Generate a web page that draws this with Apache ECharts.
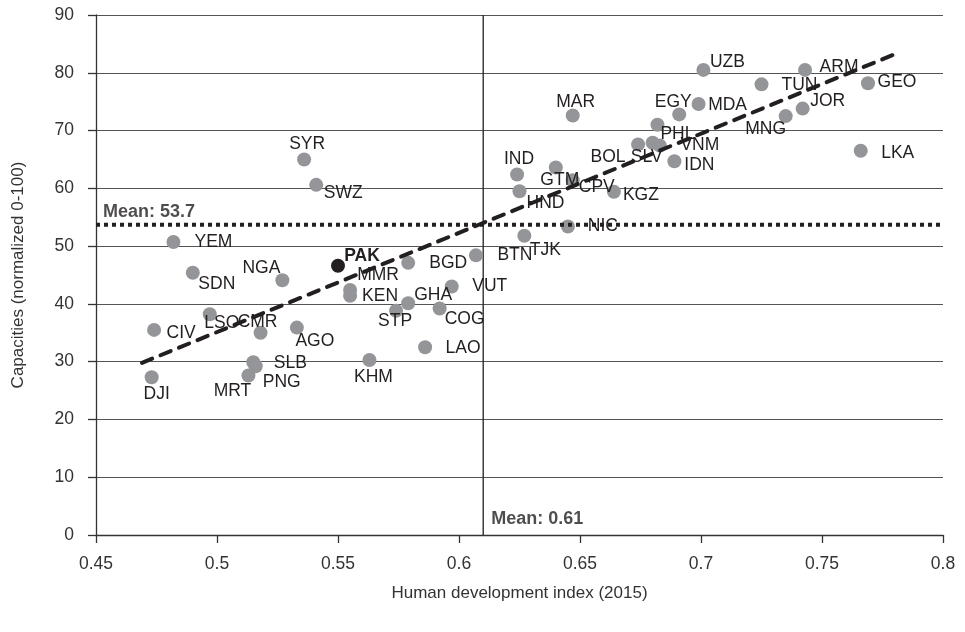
<!DOCTYPE html>
<html>
<head>
<meta charset="utf-8">
<script src="https://cdn.jsdelivr.net/npm/echarts@6/dist/echarts.min.js"></script>
<style>
html,body{margin:0;padding:0;background:#fff;}
#chart{width:965px;height:632px;}
</style>
</head>
<body>
<div id="chart"></div>
<script>
// ---- data ----
const countries = ['DJI','CIV','YEM','SDN','LSO','CMR','AGO','NGA','SLB','PNG','MRT','SYR','SWZ','PAK','BGD','MMR','KEN','VUT','GHA','STP','COG','LAO','KHM','BTN','MAR','IND','HND','GTM','CPV','KGZ','NIC','TJK','UZB','EGY','MDA','PHL','BOL','SLV','VNM','IDN','TUN','ARM','JOR','MNG','GEO','LKA'];
const hdi = [0.473,0.474,0.482,0.490,0.497,0.518,0.533,0.527,0.515,0.516,0.513,0.536,0.541,0.550,0.579,0.555,0.555,0.597,0.579,0.574,0.592,0.586,0.563,0.607,0.647,0.624,0.625,0.640,0.647,0.664,0.645,0.627,0.701,0.691,0.699,0.682,0.674,0.680,0.683,0.689,0.725,0.743,0.742,0.735,0.769,0.766];
const capacities = [27.3,35.5,50.7,45.4,38.2,35.0,35.9,44.1,29.9,29.2,27.6,65.0,60.6,46.6,47.1,42.4,41.4,43.0,40.1,38.8,39.2,32.5,30.3,48.4,72.6,62.4,59.5,63.6,61.4,59.4,53.4,51.8,80.5,72.8,74.6,71.0,67.6,67.9,67.4,64.7,78.0,80.5,73.8,72.5,78.2,66.5];
const highlighted = 'PAK';
const meanHdi = 0.61;
const meanCapacity = 53.7;
const trendHdi = [0.469, 0.780];
const trendCapacity = [29.8, 83.2];
const xTicks = {min: 0.45, max: 0.8, step: 0.05};
const yTicks = {min: 0, max: 90, step: 10};

// ---- label layout (pixel offsets of label centre from its dot) ----
const labelOffsets = {
  DJI:[5,17], CIV:[27,3], YEM:[40,0], SDN:[24,11], LSO:[12,9], CMR:[-3,-11], AGO:[18,14], NGA:[-21,-12],
  SLB:[37,1], PNG:[26,16], MRT:[-16,16], SYR:[3,-15], SWZ:[27,8], PAK:[24,-10], BGD:[40,0], MMR:[28,-15],
  KEN:[30,0], VUT:[38,0], GHA:[25,-8], STP:[-1,10], COG:[25,11], LAO:[38,1], KHM:[4,17], BTN:[39,0],
  MAR:[3,-13], IND:[2,-15], HND:[26,12], GTM:[4,13], CPV:[24,7], KGZ:[27,3], NIC:[35,0], TJK:[21,14],
  UZB:[24,-8], EGY:[-6,-12], MDA:[29,1], PHL:[20,9], BOL:[-30,13], SLV:[-6,14], VNM:[40,0], IDN:[25,4],
  TUN:[38,1], ARM:[34,-3], JOR:[25,-7], MNG:[-20,13], GEO:[29,-1], LKA:[37,2]
};

const FONT = '"Liberation Sans", Arial, sans-serif';
const TXT = '#231f20';

function pointsFor(pred){
  const out = [];
  countries.forEach((c,i)=>{
    if(!pred(c)) return;
    out.push({
      name: c,
      value: [hdi[i], capacities[i]],
      label: {offset: labelOffsets[c] || [20,0]}
    });
  });
  return out;
}

const labelBase = {
  show: true, position: 'inside', align: 'center', verticalAlign: 'middle',
  formatter: p => p.name, fontFamily: FONT, fontSize: 17.5, color: TXT
};

const chart = echarts.init(document.getElementById('chart'), null, {renderer:'canvas'});
chart.setOption({
  animation: false,
  backgroundColor: '#fff',
  grid: {left: 96, right: 22, top: 15, bottom: 97, containLabel: false},
  xAxis: {
    type: 'value', min: xTicks.min, max: xTicks.max, interval: xTicks.step,
    name: 'Human development index (2015)', nameLocation: 'middle', nameGap: 50,
    nameTextStyle: {fontFamily: FONT, fontSize: 17, color: '#333'},
    axisLine: {show: true, onZero: false, lineStyle: {color: '#333', width: 1.3}},
    axisTick: {show: true, inside: false, length: 8, lineStyle: {color: '#333', width: 1.3}},
    axisLabel: {fontFamily: FONT, fontSize: 17.5, color: '#333', margin: 20,
      formatter: v => String(Number(v.toFixed(2)))},
    splitLine: {show: false}
  },
  yAxis: {
    type: 'value', min: yTicks.min, max: yTicks.max, interval: yTicks.step,
    name: 'Capacities (normalized 0-100)', nameLocation: 'middle', nameGap: 69,
    nameTextStyle: {fontFamily: FONT, fontSize: 17, color: '#333'},
    axisLine: {show: true, lineStyle: {color: '#333', width: 1.3}},
    axisTick: {show: true, inside: false, length: 8, lineStyle: {color: '#333', width: 1.3}},
    axisLabel: {fontFamily: FONT, fontSize: 17.5, color: '#333', margin: 22},
    splitLine: {show: true, lineStyle: {color: '#555', width: 1.2}}
  },
  series: [
    {
      type: 'line', name: 'meanHdi', z: 2, silent: true, symbol: 'none',
      data: [[meanHdi, yTicks.min],[meanHdi, yTicks.max]],
      lineStyle: {color: TXT, width: 1.3}
    },
    {
      type: 'scatter', name: 'countries', z: 3, symbolSize: 14,
      itemStyle: {color: '#939598', opacity: 1},
      label: labelBase,
      data: pointsFor(c => c !== highlighted)
    },
    {
      type: 'scatter', name: 'highlight', z: 4, symbolSize: 14,
      itemStyle: {color: '#231f20', opacity: 1},
      label: Object.assign({}, labelBase, {fontWeight: 'bold'}),
      data: pointsFor(c => c === highlighted)
    },
    {
      type: 'line', name: 'meanCapacity', z: 5, silent: true, symbol: 'none',
      data: [[xTicks.min, meanCapacity],[xTicks.max, meanCapacity]],
      lineStyle: {color: TXT, width: 4, type: [4,4]}
    },
    {
      type: 'line', name: 'trend', z: 6, silent: true, symbol: 'none',
      data: [[trendHdi[0], trendCapacity[0]],[trendHdi[1], trendCapacity[1]]],
      lineStyle: {color: TXT, width: 4, type: [11,9], cap: 'round'}
    },
    {
      type: 'scatter', name: 'meanLabels', z: 7, symbolSize: 0, silent: true,
      data: [
        {value: [meanHdi, yTicks.min], name: 'Mean: ' + meanHdi, label: {offset: [8,-16]}},
        {value: [xTicks.min, meanCapacity], name: 'Mean: ' + meanCapacity, label: {offset: [7,-13]}}
      ],
      label: {show: true, position: 'inside', align: 'left', verticalAlign: 'middle',
        formatter: p => p.name, fontFamily: FONT, fontSize: 18, fontWeight: 'bold', color: TXT}
    }
  ]
});
</script>
</body>
</html>
